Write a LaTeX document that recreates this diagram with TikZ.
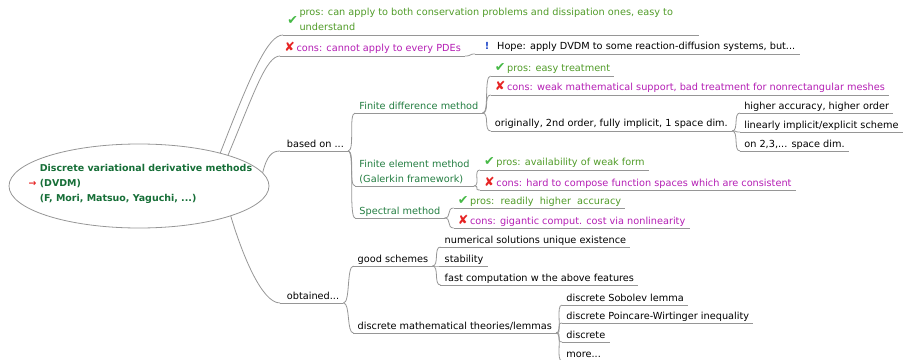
\documentclass[tikz,border=0pt]{standalone}
\usepackage{fontspec}
\setmainfont{DejaVu Sans}
\newfontfamily\symfont{DejaVu Sans}
\usepackage{xcolor}
\usetikzlibrary{calc,positioning,shapes.geometric}
\definecolor{rootgreen}{RGB}{22,110,55}
\definecolor{methgreen}{RGB}{35,125,65}
\definecolor{prosgreen}{RGB}{80,155,40}
\definecolor{consmag}{RGB}{180,30,180}
\definecolor{tickgreen}{RGB}{70,185,70}
\definecolor{crossred}{RGB}{230,35,35}
\definecolor{hopeblue}{RGB}{30,70,200}
\definecolor{linkgray}{RGB}{150,150,150}
\newcommand{\icheck}{{\symfont\fontsize{9.5}{9.5}\selectfont\color{tickgreen}\char"2714}}
\newcommand{\icross}{{\symfont\fontsize{9.5}{9.5}\selectfont\color{crossred}\char"2718}}
\newcommand{\iwarn}{{\bfseries\color{hopeblue}!}}
\newcommand{\iarrow}{{\symfont\fontsize{7}{7}\selectfont\color{crossred}\char"2192}}
\newcommand{\mmlink}[2]{\path[draw, link] (#1.south east) .. controls +(7,0) and +(-7,0) .. (#2.south west);}

\begin{document}
\begin{tikzpicture}[
    x=0.75pt, y=-0.75pt,
    font=\fontsize{7.3}{11.25}\selectfont,
    link/.style={linkgray, line width=0.6pt},
    topic/.style={anchor=south west, inner xsep=3pt, inner ysep=0pt, text height=6.5pt, text depth=2.8pt},
    pro/.style={topic, text=prosgreen},
    con/.style={topic, text=consmag},
    method/.style={topic, text=methgreen},
    rootshape/.style={ellipse, draw=linkgray, line width=0.6pt, inner sep=0pt, outer sep=0pt,
        minimum width=195pt, minimum height=63pt},
    roottext/.style={align=left, text=rootgreen, font=\fontsize{7.1}{11.25}\selectfont\bfseries}]
\useasboundingbox (0,0) rectangle (914,360);

\node[rootshape, label={[roottext, xshift=5.25pt, yshift=1.5pt]center:{Discrete variational derivative methods\\\llap{\iarrow\ }(DVDM)\\(F, Mori, Matsuo, Yaguchi, ...)}}] (root) at (139,186) {};

\node[pro] (pros) at (283,35) {\raisebox{4.5pt}{\icheck}\,\begin{tabular}[b]{@{}l@{\hspace{16pt}}}pros: can apply to both conservation problems and dissipation ones, easy to\\understand\end{tabular}};
\node[con] (cons) at (280,56) {\icross\,cons: cannot apply to every PDEs};
\node[topic] (based) at (280,151) {\hspace{2pt}based on ...};
\node[topic] (obtained) at (280,303) {\hspace{2pt}obtained...};

\node[topic] (hope) at ($(cons.south east)+(10,-2)$) {\hspace{4pt}\iwarn\hspace{6pt}Hope: apply DVDM to some reaction-diffusion systems, but...};

\node[method] (fdm) at ($(based.south east)+(7,-38)$) {Finite difference method};
\node[method] (fem) at ($(based.south east)+(7,35)$) {\begin{tabular}[b]{@{}l@{}}Finite element method\\(Galerkin framework)\end{tabular}};
\node[method] (spec) at ($(based.south east)+(7,67)$) {Spectral method};

\node[pro] (fdpros) at ($(fdm.south east)+(8,-37)$) {\icheck\,pros: easy treatment};
\node[con] (fdcons) at ($(fdm.south east)+(8,-18)$) {\icross\,cons: weak mathematical support, bad treatment for nonrectangular meshes};
\node[topic] (orig) at ($(fdm.south east)+(8,18)$) {originally, 2nd order, fully implicit, 1 space dim.};

\node[topic] (hiacc) at ($(orig.south east)+(8,-18)$) {higher accuracy, higher order};
\node[topic] (linimp) at ($(orig.south east)+(8,1)$) {linearly implicit/explicit scheme};
\node[topic] (dims) at ($(orig.south east)+(8,20)$) {on 2,3,... space dim.};

\node[pro] (fepros) at ($(fem.south east)+(6,-16)$) {\icheck\,pros: availability of weak form};
\node[con] (fecons) at ($(fem.south east)+(6,4)$) {\icross\,cons: hard to compose function spaces which are consistent};

\node[pro] (sppros) at ($(spec.south east)+(9,-10)$) {\icheck\,pros:\ \ readily\ \ higher\ \ accuracy};
\node[con] (spcons) at ($(spec.south east)+(9,10)$) {\icross\,cons: gigantic comput. cost via nonlinearity};

\node[topic] (good) at ($(obtained.south east)+(10,-37)$) {good schemes};
\node[topic] (dmt) at ($(obtained.south east)+(10,30)$) {discrete mathematical theories/lemmas};

\node[topic] (uniq) at ($(good.south east)+(8,-19)$) {numerical solutions unique existence};
\node[topic] (stab) at ($(good.south east)+(8,0)$) {stability};
\node[topic] (fast) at ($(good.south east)+(8,19)$) {fast computation w the above features};

\node[topic] (sob) at ($(dmt.south east)+(6,-28)$) {discrete Sobolev lemma};
\node[topic] (poin) at ($(dmt.south east)+(6,-10)$) {discrete Poincare-Wirtinger inequality};
\node[topic] (disc) at ($(dmt.south east)+(6,9)$) {discrete};
\node[topic] (more) at ($(dmt.south east)+(6,28)$) {more...};

\foreach \n in {pros,cons,based,obtained,hope,fdm,fem,spec,fdpros,fdcons,orig,hiacc,linimp,dims,
    fepros,fecons,sppros,spcons,good,dmt,uniq,stab,fast,sob,poin,disc,more}
    \path[draw, link] (\n.south west) -- (\n.south east);

\path[draw, link] (root.22) .. controls +(31,-80) and +(-15,0) .. (pros.south west);
\path[draw, link] (root.19) .. controls +(26,-62) and +(-14,0) .. (cons.south west);
\path[draw, link] (root.6) .. controls +(4,-17) and +(-8,0) .. (based.south west);
\path[draw, link] (root.-18) .. controls +(12,40) and +(-18,0) .. (obtained.south west);

\mmlink{cons}{hope}
\mmlink{based}{fdm}
\mmlink{based}{fem}
\mmlink{based}{spec}
\mmlink{fdm}{fdpros}
\mmlink{fdm}{fdcons}
\mmlink{fdm}{orig}
\mmlink{orig}{hiacc}
\mmlink{orig}{linimp}
\mmlink{orig}{dims}
\mmlink{fem}{fepros}
\mmlink{fem}{fecons}
\mmlink{spec}{sppros}
\mmlink{spec}{spcons}
\mmlink{obtained}{good}
\mmlink{obtained}{dmt}
\mmlink{good}{uniq}
\mmlink{good}{stab}
\mmlink{good}{fast}
\mmlink{dmt}{sob}
\mmlink{dmt}{poin}
\mmlink{dmt}{disc}
\mmlink{dmt}{more}
\end{tikzpicture}
\end{document}
